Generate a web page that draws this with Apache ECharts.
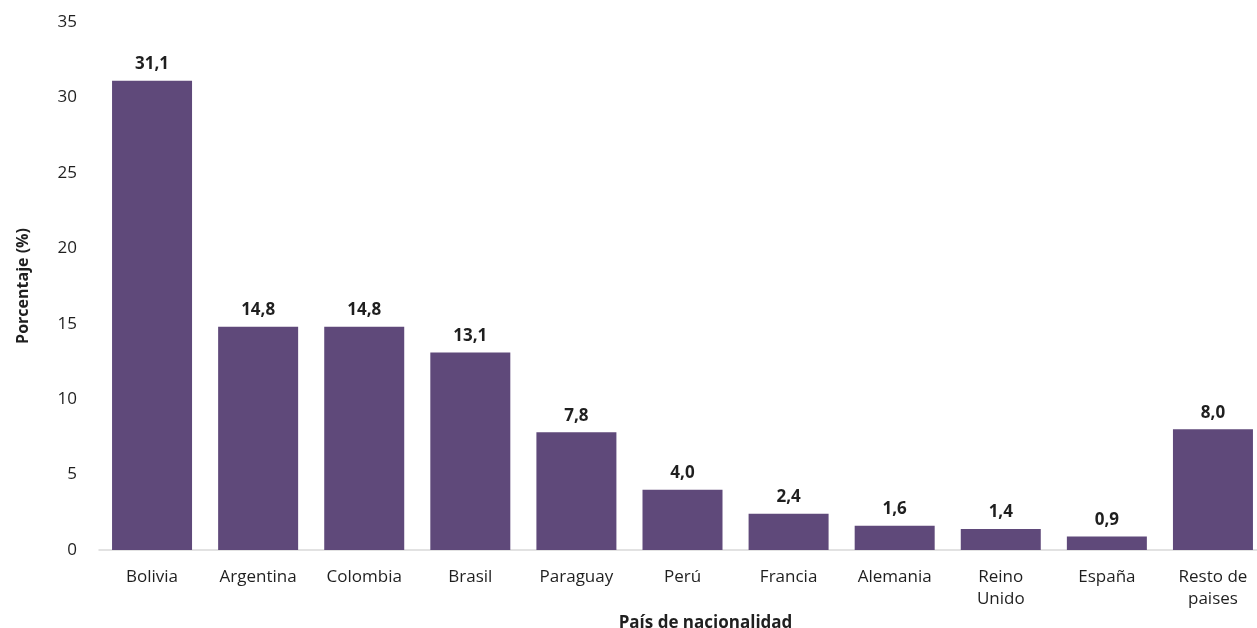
<!DOCTYPE html>
<html>
<head>
<meta charset="utf-8">
<script src="https://cdn.jsdelivr.net/npm/echarts@6/dist/echarts.min.js"></script>
<style>html,body{margin:0;padding:0;background:#fff;}#c{width:1257px;height:628px;}</style>
</head>
<body>
<div id="c"></div>
<script>
const categories = ["Bolivia", "Argentina", "Colombia", "Brasil", "Paraguay", "Perú", "Francia", "Alemania", "Reino\nUnido", "España", "Resto de\npaises"];
const values = [31.1, 14.8, 14.8, 13.1, 7.8, 4.0, 2.4, 1.6, 1.4, 0.9, 8.0];
const yTicks = [0, 5, 10, 15, 20, 25, 30, 35];

const font = "'Open Sans', 'Liberation Sans', sans-serif";
const chart = echarts.init(document.getElementById('c'));
chart.setOption({
  animation: false,
  grid: { left: 99, width: 1167, top: 22, bottom: 78, containLabel: false, outerBoundsMode: 'none' },
  xAxis: {
    type: 'category',
    data: categories,
    axisLine: { lineStyle: { color: '#d9d9d9', width: 1.5 } },
    axisTick: { show: false },
    axisLabel: { color: '#1f1f1f', fontFamily: font, fontSize: 17, margin: 16, lineHeight: 22, interval: 0 },
    name: 'País de nacionalidad',
    nameLocation: 'middle',
    nameGap: 63,
    nameTextStyle: { color: '#1f1f1f', fontFamily: font, fontSize: 17, fontWeight: 'bold', padding: [0, 0, 0, 46] }
  },
  yAxis: {
    type: 'value',
    min: yTicks[0],
    max: yTicks[yTicks.length - 1],
    interval: 5,
    splitLine: { show: false },
    axisLine: { show: false },
    axisTick: { show: false },
    axisLabel: { color: '#1f1f1f', fontFamily: font, fontSize: 17, margin: 22 },
    name: 'Porcentaje (%)',
    nameLocation: 'middle',
    nameGap: 68,
    nameTextStyle: { color: '#1f1f1f', fontFamily: font, fontSize: 16, fontWeight: 'bold' }
  },
  series: [{
    type: 'bar',
    data: values,
    barWidth: 80,
    itemStyle: { color: '#5F497A' },
    label: {
      show: true,
      position: 'top',
      distance: 8,
      color: '#1f1f1f',
      fontFamily: font,
      fontSize: 17,
      fontWeight: 'bold',
      formatter: p => p.value.toFixed(1).replace('.', ',')
    }
  }]
});
</script>
</body>
</html>
